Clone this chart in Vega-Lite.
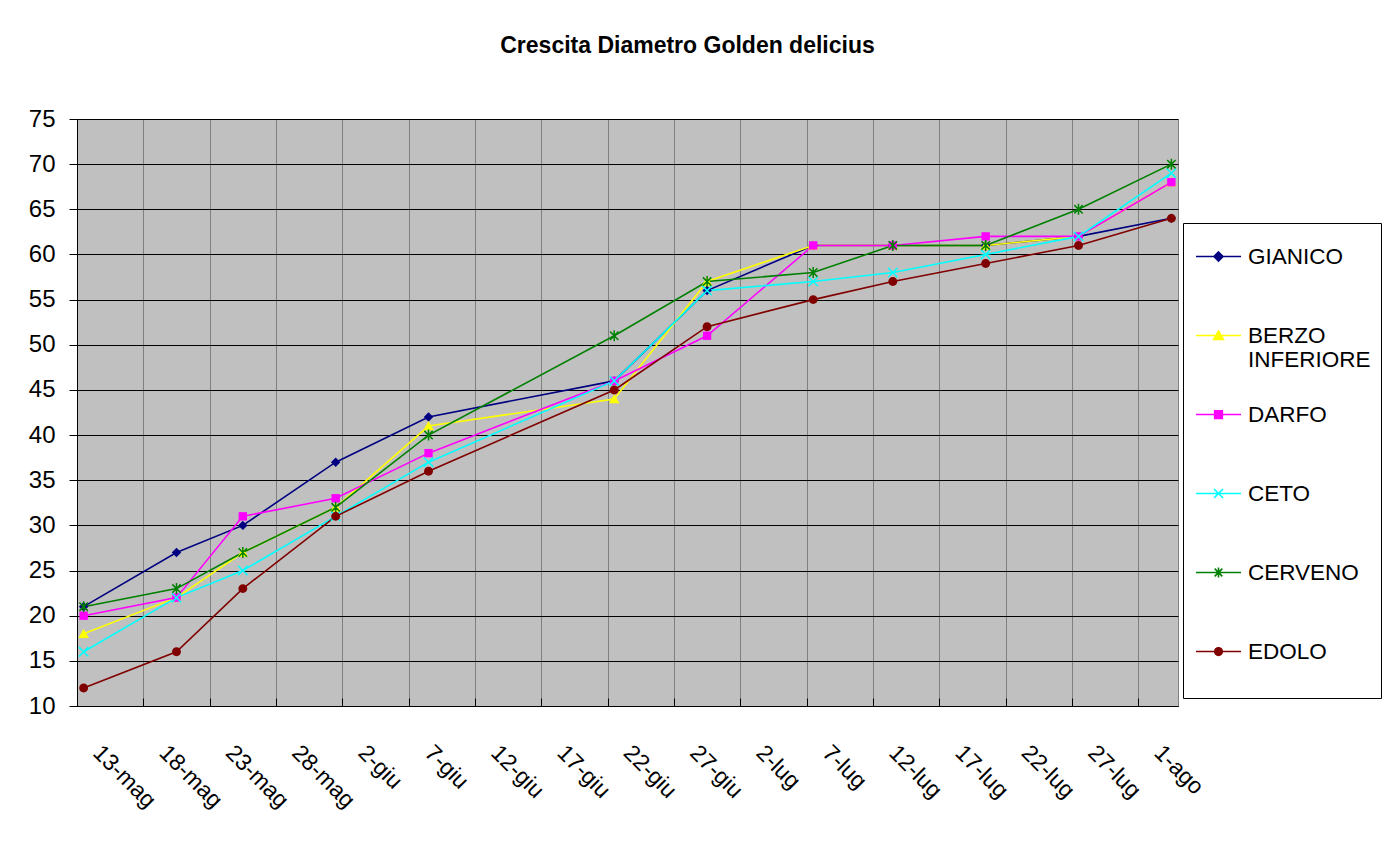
{
  "$schema": "https://vega.github.io/schema/vega-lite/v6.json",
  "width": 1101,
  "height": 587,
  "autosize": {"type": "none"},
  "padding": {"left": 77, "top": 119, "right": 211, "bottom": 149},
  "background": "white",
  "title": {
    "text": "Crescita Diametro Golden delicius",
    "font": "Liberation Sans",
    "fontSize": 23,
    "fontWeight": "bold",
    "color": "black",
    "anchor": "middle",
    "frame": "group",
    "dx": 60,
    "offset": 49
  },
  "data": {
    "values": [
      {"site": "GIANICO", "date": "2008/05/13", "diam": 21},
      {"site": "GIANICO", "date": "2008/05/20", "diam": 27},
      {"site": "GIANICO", "date": "2008/05/25", "diam": 30},
      {"site": "GIANICO", "date": "2008/06/01", "diam": 37},
      {"site": "GIANICO", "date": "2008/06/08", "diam": 42},
      {"site": "GIANICO", "date": "2008/06/22", "diam": 46},
      {"site": "GIANICO", "date": "2008/06/29", "diam": 56},
      {"site": "GIANICO", "date": "2008/07/07", "diam": 61},
      {"site": "GIANICO", "date": "2008/07/13", "diam": 61},
      {"site": "GIANICO", "date": "2008/07/20", "diam": 61},
      {"site": "GIANICO", "date": "2008/07/27", "diam": 62},
      {"site": "GIANICO", "date": "2008/08/03", "diam": 64},
      {"site": "BERZO INFERIORE", "date": "2008/05/13", "diam": 18},
      {"site": "BERZO INFERIORE", "date": "2008/05/20", "diam": 22},
      {"site": "BERZO INFERIORE", "date": "2008/05/25", "diam": 27},
      {"site": "BERZO INFERIORE", "date": "2008/06/01", "diam": 32},
      {"site": "BERZO INFERIORE", "date": "2008/06/08", "diam": 41},
      {"site": "BERZO INFERIORE", "date": "2008/06/22", "diam": 44},
      {"site": "BERZO INFERIORE", "date": "2008/06/29", "diam": 57},
      {"site": "BERZO INFERIORE", "date": "2008/07/07", "diam": 61},
      {"site": "BERZO INFERIORE", "date": "2008/07/13", "diam": 61},
      {"site": "BERZO INFERIORE", "date": "2008/07/20", "diam": 61},
      {"site": "BERZO INFERIORE", "date": "2008/07/27", "diam": 62},
      {"site": "BERZO INFERIORE", "date": "2008/08/03", "diam": 68},
      {"site": "DARFO", "date": "2008/05/13", "diam": 20},
      {"site": "DARFO", "date": "2008/05/20", "diam": 22},
      {"site": "DARFO", "date": "2008/05/25", "diam": 31},
      {"site": "DARFO", "date": "2008/06/01", "diam": 33},
      {"site": "DARFO", "date": "2008/06/08", "diam": 38},
      {"site": "DARFO", "date": "2008/06/22", "diam": 46},
      {"site": "DARFO", "date": "2008/06/29", "diam": 51},
      {"site": "DARFO", "date": "2008/07/07", "diam": 61},
      {"site": "DARFO", "date": "2008/07/13", "diam": 61},
      {"site": "DARFO", "date": "2008/07/20", "diam": 62},
      {"site": "DARFO", "date": "2008/07/27", "diam": 62},
      {"site": "DARFO", "date": "2008/08/03", "diam": 68},
      {"site": "CETO", "date": "2008/05/13", "diam": 16},
      {"site": "CETO", "date": "2008/05/20", "diam": 22},
      {"site": "CETO", "date": "2008/05/25", "diam": 25},
      {"site": "CETO", "date": "2008/06/01", "diam": 31},
      {"site": "CETO", "date": "2008/06/08", "diam": 37},
      {"site": "CETO", "date": "2008/06/22", "diam": 46},
      {"site": "CETO", "date": "2008/06/29", "diam": 56},
      {"site": "CETO", "date": "2008/07/07", "diam": 57},
      {"site": "CETO", "date": "2008/07/13", "diam": 58},
      {"site": "CETO", "date": "2008/07/20", "diam": 60},
      {"site": "CETO", "date": "2008/07/27", "diam": 62},
      {"site": "CETO", "date": "2008/08/03", "diam": 69},
      {"site": "CERVENO", "date": "2008/05/13", "diam": 21},
      {"site": "CERVENO", "date": "2008/05/20", "diam": 23},
      {"site": "CERVENO", "date": "2008/05/25", "diam": 27},
      {"site": "CERVENO", "date": "2008/06/01", "diam": 32},
      {"site": "CERVENO", "date": "2008/06/08", "diam": 40},
      {"site": "CERVENO", "date": "2008/06/22", "diam": 51},
      {"site": "CERVENO", "date": "2008/06/29", "diam": 57},
      {"site": "CERVENO", "date": "2008/07/07", "diam": 58},
      {"site": "CERVENO", "date": "2008/07/13", "diam": 61},
      {"site": "CERVENO", "date": "2008/07/20", "diam": 61},
      {"site": "CERVENO", "date": "2008/07/27", "diam": 65},
      {"site": "CERVENO", "date": "2008/08/03", "diam": 70},
      {"site": "EDOLO", "date": "2008/05/13", "diam": 12},
      {"site": "EDOLO", "date": "2008/05/20", "diam": 16},
      {"site": "EDOLO", "date": "2008/05/25", "diam": 23},
      {"site": "EDOLO", "date": "2008/06/01", "diam": 31},
      {"site": "EDOLO", "date": "2008/06/08", "diam": 36},
      {"site": "EDOLO", "date": "2008/06/22", "diam": 45},
      {"site": "EDOLO", "date": "2008/06/29", "diam": 52},
      {"site": "EDOLO", "date": "2008/07/07", "diam": 55},
      {"site": "EDOLO", "date": "2008/07/13", "diam": 57},
      {"site": "EDOLO", "date": "2008/07/20", "diam": 59},
      {"site": "EDOLO", "date": "2008/07/27", "diam": 61},
      {"site": "EDOLO", "date": "2008/08/03", "diam": 64}
    ]
  },
  "encoding": {
    "x": {
      "field": "date",
      "type": "temporal",
      "scale": {
        "domain": [
          {"year": 2008, "month": 5, "date": 12, "hours": 12},
          {"year": 2008, "month": 8, "date": 3, "hours": 12}
        ]
      },
      "axis": {
        "title": null,
        "values": [
          {"year": 2008, "month": 5, "date": 12, "hours": 12},
          {"year": 2008, "month": 5, "date": 17, "hours": 12},
          {"year": 2008, "month": 5, "date": 22, "hours": 12},
          {"year": 2008, "month": 5, "date": 27, "hours": 12},
          {"year": 2008, "month": 6, "date": 1, "hours": 12},
          {"year": 2008, "month": 6, "date": 6, "hours": 12},
          {"year": 2008, "month": 6, "date": 11, "hours": 12},
          {"year": 2008, "month": 6, "date": 16, "hours": 12},
          {"year": 2008, "month": 6, "date": 21, "hours": 12},
          {"year": 2008, "month": 6, "date": 26, "hours": 12},
          {"year": 2008, "month": 7, "date": 1, "hours": 12},
          {"year": 2008, "month": 7, "date": 6, "hours": 12},
          {"year": 2008, "month": 7, "date": 11, "hours": 12},
          {"year": 2008, "month": 7, "date": 16, "hours": 12},
          {"year": 2008, "month": 7, "date": 21, "hours": 12},
          {"year": 2008, "month": 7, "date": 26, "hours": 12},
          {"year": 2008, "month": 7, "date": 31, "hours": 12}
        ],
        "labelExpr": "date(time(datum.value) + 43200000) + '-' + ['gen','feb','mar','apr','mag','giu','lug','ago','set','ott','nov','dic'][month(time(datum.value) + 43200000)]",
        "labelAngle": 45,
        "labelAlign": "left",
        "labelBaseline": "top",
        "labelFont": "Liberation Sans",
        "labelFontSize": 23,
        "labelColor": "black",
        "labelPadding": 43,
        "labelOffset": 27,
        "labelOverlap": false,
        "labelFlush": false,
        "labelBound": false,
        "grid": true,
        "gridColor": "#808080",
        "gridWidth": 1,
        "domainColor": "black",
        "domainWidth": 1,
        "tickColor": "black",
        "tickSize": -8,
        "tickWidth": 1
      }
    },
    "y": {
      "field": "diam",
      "type": "quantitative",
      "scale": {"domain": [10, 75], "nice": false, "zero": false},
      "axis": {
        "title": null,
        "values": [10, 15, 20, 25, 30, 35, 40, 45, 50, 55, 60, 65, 70, 75],
        "labelFont": "Liberation Sans",
        "labelFontSize": 24,
        "labelColor": "black",
        "labelPadding": 14,
        "tickSize": 8,
        "tickColor": "black",
        "domainColor": "black",
        "grid": true,
        "gridColor": "black",
        "gridWidth": 1
      }
    },
    "color": {
      "field": "site",
      "type": "nominal",
      "scale": {
        "domain": ["GIANICO", "BERZO INFERIORE", "DARFO", "CETO", "CERVENO", "EDOLO"],
        "range": ["#000080", "#FFFF00", "#FF00FF", "#00FFFF", "#008000", "#800000"]
      },
      "legend": {
        "title": null,
        "orient": "none",
        "legendX": 1106,
        "legendY": 104,
        "direction": "vertical",
        "strokeColor": "black",
        "fillColor": "white",
        "padding": 10,
        "symbolOffset": 2,
        "symbolSize": 2025,
        "symbolStrokeWidth": 1.6,
        "labelFont": "Liberation Sans",
        "labelFontSize": 22.5,
        "labelColor": "black",
        "labelOffset": 6,
        "labelLimit": 200,
        "rowPadding": 19,
        "gridAlign": "all",
        "labelExpr": "datum.label === 'BERZO INFERIORE' ? ['BERZO', 'INFERIORE'] : datum.label === 'EDOLO' ? ['EDOLO', ''] : datum.label",
        "encode": {
          "symbols": {
            "update": {
              "shape": {"signal": "datum.value === 'GIANICO' ? 'M-1,0H1M0,-0.2L0.2,0L0,0.2L-0.2,0Z' : datum.value === 'BERZO INFERIORE' ? 'M-1,0H1M0,-0.2L0.22,0.17L-0.22,0.17Z' : datum.value === 'DARFO' ? 'M-1,0H1M-0.17,-0.17H0.17V0.17H-0.17Z' : datum.value === 'CETO' ? 'M-1,0H1M-0.2,-0.2L0.2,0.2M-0.2,0.2L0.2,-0.2' : datum.value === 'CERVENO' ? 'M-1,0H1M-0.17,-0.17L0.17,0.17M-0.17,0.17L0.17,-0.17M0,-0.22V0.22' : 'M-1,0H1M-0.17,0A0.17,0.17 0 1,0 0.17,0A0.17,0.17 0 1,0 -0.17,0Z'"},
              "fill": {"scale": "color", "field": "value"},
              "stroke": {"scale": "color", "field": "value"},
              "strokeWidth": {"value": 1.6},
              "opacity": {"value": 1}
            }
          }
        }
      }
    }
  },
  "layer": [
    {"mark": {"type": "line", "strokeWidth": 1.6}},
    {
      "transform": [{"filter": "datum.site === 'GIANICO'"}],
      "mark": {"type": "point", "filled": true, "size": 110, "opacity": 1, "shape": "M0,-0.9L0.9,0L0,0.9L-0.9,0Z"}
    },
    {
      "transform": [{"filter": "datum.site === 'BERZO INFERIORE'"}],
      "mark": {"type": "point", "filled": true, "size": 110, "opacity": 1, "shape": "M0,-0.95L1,0.8L-1,0.8Z"}
    },
    {
      "transform": [{"filter": "datum.site === 'DARFO'"}],
      "mark": {"type": "point", "filled": true, "size": 110, "opacity": 1, "shape": "M-0.8,-0.8H0.8V0.8H-0.8Z"}
    },
    {
      "transform": [{"filter": "datum.site === 'CETO'"}],
      "mark": {"type": "point", "filled": false, "size": 110, "opacity": 1, "strokeWidth": 1.5, "shape": "M-0.9,-0.9L0.9,0.9M-0.9,0.9L0.9,-0.9"}
    },
    {
      "transform": [{"filter": "datum.site === 'CERVENO'"}],
      "mark": {"type": "point", "filled": false, "size": 110, "opacity": 1, "strokeWidth": 1.5, "shape": "M-0.8,-0.8L0.8,0.8M-0.8,0.8L0.8,-0.8M0,-1.05V1.05"}
    },
    {
      "transform": [{"filter": "datum.site === 'EDOLO'"}],
      "mark": {"type": "point", "filled": true, "size": 110, "opacity": 1, "shape": "M-0.85,0A0.85,0.85 0 1,0 0.85,0A0.85,0.85 0 1,0 -0.85,0Z"}
    }
  ],
  "config": {
    "font": "Liberation Sans",
    "view": {"fill": "#C0C0C0", "stroke": "#808080", "strokeWidth": 1}
  }
}
